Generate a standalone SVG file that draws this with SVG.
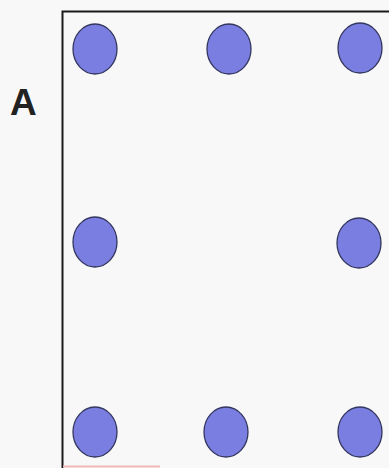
<svg xmlns="http://www.w3.org/2000/svg" width="389" height="468" viewBox="0 0 389 468">
<style>
.dot{fill:#7a7ee0;stroke:#33365e;stroke-width:1.3}
.frame{fill:none;stroke:#1a1a1a;stroke-width:2}
</style>
<rect x="0" y="0" width="389" height="468" fill="#f8f8f8"/>
<g id="frame">
<path class="frame" d="M62.5,468 V11.5 H389"/>
<line x1="63" y1="466.5" x2="160" y2="466.5" stroke="#f2b8b8" stroke-width="2"/>
</g>
<g id="label"><text x="10" y="115" font-family="Liberation Sans, Arial, sans-serif" font-weight="bold" font-size="37" fill="#222">A</text></g>
<g id="dots">
<ellipse id="d1" class="dot" cx="95" cy="49" rx="22" ry="25"/>
<ellipse id="d2" class="dot" cx="229" cy="49" rx="22" ry="25"/>
<ellipse id="d3" class="dot" cx="360" cy="48" rx="22" ry="25"/>
<ellipse id="d4" class="dot" cx="95" cy="242" rx="22" ry="25"/>
<ellipse id="d5" class="dot" cx="359" cy="243" rx="22" ry="25"/>
<ellipse id="d6" class="dot" cx="95" cy="432" rx="22" ry="25"/>
<ellipse id="d7" class="dot" cx="226" cy="432" rx="22" ry="25"/>
<ellipse id="d8" class="dot" cx="360" cy="432" rx="22" ry="25"/>
</g>
<g id="connectors"/>
</svg>
